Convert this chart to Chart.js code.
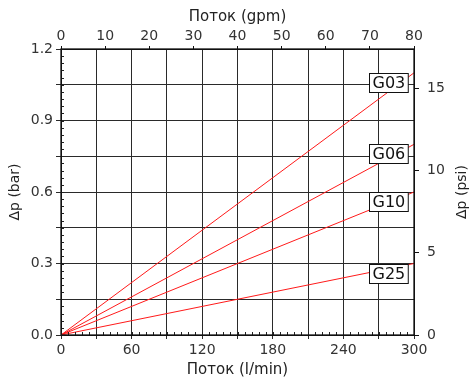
<!DOCTYPE html>
<html>
<head>
<meta charset="utf-8">
<script src="https://cdn.jsdelivr.net/npm/chart.js@4/dist/chart.umd.min.js"></script>
<style>
  html, body { margin: 0; padding: 0; background: #fff; }
  #c { display: block; }
</style>
</head>
<body>
<canvas id="c" width="470" height="382"></canvas>
<script>
// Flow (l/min) and pressure drop (bar) for each valve size
const flow = [0, 300];
const g03 = [0, 1.1];
const g06 = [0, 0.8];
const g10 = [0, 0.6];
const g25 = [0, 0.3];
const seriesNames = ['G03', 'G06', 'G10', 'G25'];
const seriesValues = [g03, g06, g10, g25];

// Axis ranges
const flowMax = 300;          // l/min
const gpmMax = 80;            // gpm (top axis)
const barMax = 1.2;           // bar
const psiPerBar = 14.5038;

const FONT = 'DejaVu Sans';
const TXT = '#333';
const GRID = '#2a2a2a';

function pts(vals) {
  return flow.map((f, i) => ({ x: f, y: vals[i] }));
}

// Small inner ticks on the bottom and left axes
const minorTicks = {
  id: 'minorTicks',
  afterDatasetsDraw(chart) {
    const { ctx, chartArea: a, scales } = chart;
    ctx.save();
    ctx.strokeStyle = '#222';
    ctx.lineWidth = 1;
    ctx.beginPath();
    for (let v = 0; v <= flowMax + 1e-9; v += 6) {
      const px = Math.round(scales.x.getPixelForValue(v)) + 0.5;
      ctx.moveTo(px, a.bottom);
      ctx.lineTo(px, a.bottom - 3);
    }
    for (let i = 0; i <= 40; i++) {
      const py = Math.round(scales.y.getPixelForValue(i * 0.03)) + 0.5;
      ctx.moveTo(a.left, py);
      ctx.lineTo(a.left + 3, py);
    }
    ctx.stroke();
    ctx.restore();
  }
};

// Boxed series names at the right end of each line, plus the right axis title
const seriesLabels = {
  id: 'seriesLabels',
  afterDatasetsDraw(chart) {
    const { ctx, chartArea: a, scales } = chart;
    ctx.save();
    ctx.font = '16px "' + FONT + '"';
    ctx.textBaseline = 'middle';
    ctx.textAlign = 'center';
    seriesNames.forEach((name, i) => {
      const vals = seriesValues[i];
      const endY = scales.y.getPixelForValue(vals[vals.length - 1]);
      const right = scales.x.getPixelForValue(flowMax) - 6;
      const w = ctx.measureText(name).width + 6;
      const h = 19;
      const left = Math.round(right - w) + 0.5;
      const top = Math.round(endY) + 0.5;
      ctx.fillStyle = '#fff';
      ctx.fillRect(left, top, w, h);
      ctx.strokeStyle = '#111';
      ctx.lineWidth = 1;
      ctx.strokeRect(left, top, w, h);
      ctx.fillStyle = '#111';
      ctx.fillText(name, left + w / 2, top + h / 2 + 1);
    });
    // right axis title, reading upward
    ctx.font = '14px "' + FONT + '"';
    ctx.fillStyle = '#222';
    ctx.translate(462, (a.top + a.bottom) / 2);
    ctx.rotate(-Math.PI / 2);
    ctx.fillText('Δp (psi)', 0, 0);
    ctx.restore();
  }
};

// Frame around the plot area
const frame = {
  id: 'frame',
  afterDraw(chart) {
    const { ctx, chartArea: a } = chart;
    ctx.save();
    ctx.strokeStyle = '#111';
    ctx.lineWidth = 1.3;
    ctx.strokeRect(a.left, a.top, a.right - a.left, a.bottom - a.top);
    ctx.restore();
  }
};

new Chart(document.getElementById('c'), {
  type: 'line',
  data: {
    datasets: seriesNames.map((name, i) => ({
      label: name,
      data: pts(seriesValues[i]),
      borderColor: '#ff1a1a',
      borderWidth: 1,
      pointRadius: 0,
      tension: 0,
      fill: false
    }))
  },
  options: {
    responsive: false,
    animation: false,
    devicePixelRatio: 1,
    layout: { padding: 0 },
    plugins: { legend: { display: false }, tooltip: { enabled: false } },
    scales: {
      x: {
        type: 'linear', position: 'bottom', min: 0, max: flowMax,
        afterFit(s) { s.height = 47; },
        ticks: {
          stepSize: 30, maxRotation: 0, autoSkip: false, padding: 3,
          color: TXT, font: { family: FONT, size: 14 },
          callback: v => (Math.round(v) % 60 === 0 ? String(v) : '')
        },
        grid: { color: GRID, lineWidth: 1, tickLength: 4 },
        border: { color: '#111' },
        title: { display: true, text: 'Поток (l/min)', color: '#222',
                 font: { family: FONT, size: 15 }, padding: { top: 0, bottom: 3 } }
      },
      x2: {
        type: 'linear', position: 'top', min: 0, max: gpmMax,
        afterFit(s) { s.height = 49; },
        ticks: { stepSize: 10, maxRotation: 0, autoSkip: false, padding: 1,
                 color: TXT, font: { family: FONT, size: 14 } },
        grid: { drawOnChartArea: false, color: '#111', tickLength: 3 },
        border: { color: '#111' },
        title: { display: true, text: 'Поток (gpm)', color: '#222',
                 font: { family: FONT, size: 15 }, padding: { top: 8, bottom: 0 } }
      },
      y: {
        type: 'linear', position: 'left', min: 0, max: barMax,
        afterFit(s) { s.width = 61; },
        ticks: {
          stepSize: 0.15, autoSkip: false, padding: 3,
          color: TXT, font: { family: FONT, size: 14 },
          callback: v => (Math.round(v / 0.15) % 2 === 0 ? v.toFixed(1) : '')
        },
        grid: { color: GRID, lineWidth: 1, tickLength: 5 },
        border: { color: '#111' },
        title: { display: true, text: 'Δp (bar)', color: '#222',
                 font: { family: FONT, size: 14 }, padding: { top: 7, bottom: 0 } }
      },
      y2: {
        type: 'linear', position: 'right', min: 0, max: barMax * psiPerBar,
        afterFit(s) { s.width = 56; },
        afterBuildTicks(s) { s.ticks = s.ticks.filter(t => Math.abs(t.value % 5) < 1e-6); },
        ticks: { stepSize: 5, autoSkip: false, padding: 8,
                 color: TXT, font: { family: FONT, size: 14 } },
        grid: { drawOnChartArea: false, color: '#111', tickLength: 5 },
        border: { color: '#111' }
      }
    }
  },
  plugins: [minorTicks, seriesLabels, frame]
});
</script>
</body>
</html>
